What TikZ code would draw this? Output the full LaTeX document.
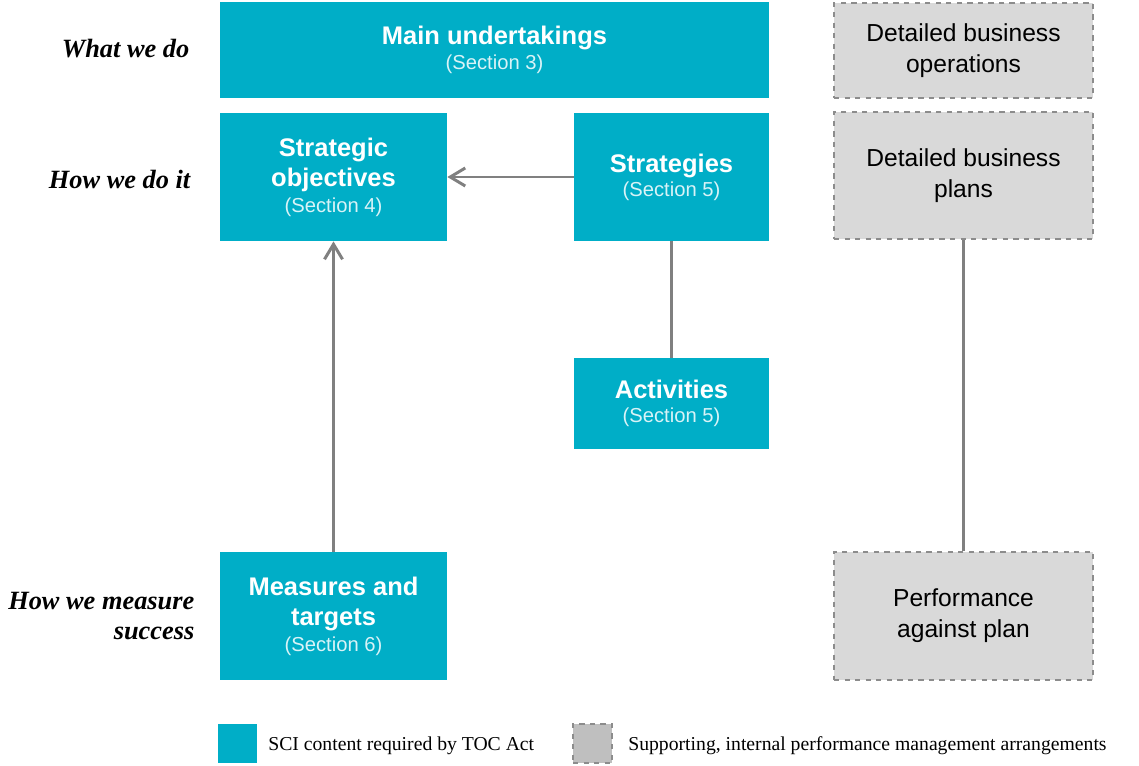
\documentclass[tikz,border=0pt]{standalone}
\usepackage{fontspec}
\setmainfont{Liberation Serif}
\setsansfont{Liberation Sans}
\usetikzlibrary{shapes, arrows.meta, positioning, backgrounds}
\definecolor{scicyan}{RGB}{0,174,199}
\definecolor{supgray}{RGB}{217,217,217}
\definecolor{leggray}{RGB}{191,191,191}
\definecolor{dashgray}{RGB}{140,140,140}
\definecolor{linkgray}{RGB}{128,128,128}
\tikzstyle{sci} = [rectangle, inner sep=0pt, fill=scicyan, text=white, align=center, font=\sffamily\fontsize{14.5}{17.5}\selectfont]
\tikzstyle{support} = [rectangle, inner sep=0pt, fill=supgray, draw=dashgray, dashed, line width=0.8pt, text=black, align=center, font=\sffamily\fontsize{14}{17.5}\selectfont]
\tikzstyle{rowlabel} = [anchor=east, align=right, font=\bfseries\itshape\fontsize{15}{17}\selectfont]
\tikzstyle{legtext} = [anchor=west, inner sep=0pt, font=\fontsize{11.2}{13}\selectfont]
\tikzstyle{link} = [draw=linkgray, line width=1.7pt]
\tikzstyle{arrow} = [link, -{Straight Barb[length=3mm, width=3.6mm]}]
\newcommand{\boxtitle}[1]{{\bfseries #1}}
\newcommand{\boxsec}[1]{{\fontsize{11.5}{14}\selectfont\color{white!85!scicyan} #1}}

\begin{document}
\begin{tikzpicture}[background rectangle/.style={fill=white}, show background rectangle]

    \useasboundingbox (0, 0) rectangle (22.78, -15.30);

    % content required by the Act
    \node (main) [sci, minimum width=10.98cm, minimum height=1.92cm] at (9.89, -1.00) {\boxtitle{Main undertakings}\\[-3.5pt]\boxsec{(Section 3)}};
    \node (objectives) [sci, minimum width=4.54cm, minimum height=2.56cm] at (6.67, -3.54) {\boxtitle{Strategic}\\\boxtitle{objectives}\\[-3pt]\boxsec{(Section 4)}};
    \node (strategies) [sci, minimum width=3.90cm, minimum height=2.56cm] at (13.43, -3.54) {\boxtitle{Strategies}\\[-4pt]\boxsec{(Section 5)}};
    \node (activities) [sci, minimum width=3.90cm, minimum height=1.82cm] at (13.43, -8.07) {\boxtitle{Activities}\\[-4pt]\boxsec{(Section 5)}};
    \node (measures) [sci, minimum width=4.54cm, minimum height=2.56cm] at (6.67, -12.32) {\boxtitle{Measures and}\\\boxtitle{targets}\\[-3pt]\boxsec{(Section 6)}};

    % supporting arrangements
    \node (operations) [support, minimum width=5.18cm, minimum height=1.90cm] at (19.27, -1.01) {Detailed business\\operations};
    \node (plans) [support, minimum width=5.18cm, minimum height=2.54cm] at (19.27, -3.51) {Detailed business\\plans};
    \node (performance) [support, minimum width=5.18cm, minimum height=2.56cm] at (19.27, -12.32) {Performance\\against plan};

    % row labels
    \node (what) [rowlabel] at (3.91, -0.98) {What we do};
    \node (how) [rowlabel] at (3.93, -3.58) {How we do it};
    \node (success) [rowlabel] at (4.01, -12.32) {How we measure\\success};

    % legend
    \node (legsci) [rectangle, inner sep=0pt, minimum size=0.78cm, fill=scicyan] at (4.75, -14.87) {};
    \node (legscitext) [legtext] at (5.36, -14.92) {SCI content required by TOC Act};
    \node (legsup) [rectangle, inner sep=0pt, minimum size=0.78cm, fill=leggray, draw=dashgray, dashed, line width=0.8pt] at (11.85, -14.87) {};
    \node (legsuptext) [legtext] at (12.56, -14.92) {Supporting, internal performance management arrangements};

    % connectors
    \draw [arrow] (strategies) -- (objectives);
    \draw [arrow] (measures) -- (objectives);
    \draw [link] (strategies) -- (activities);
    \draw [link] (plans) -- (performance);

\end{tikzpicture}
\end{document}
